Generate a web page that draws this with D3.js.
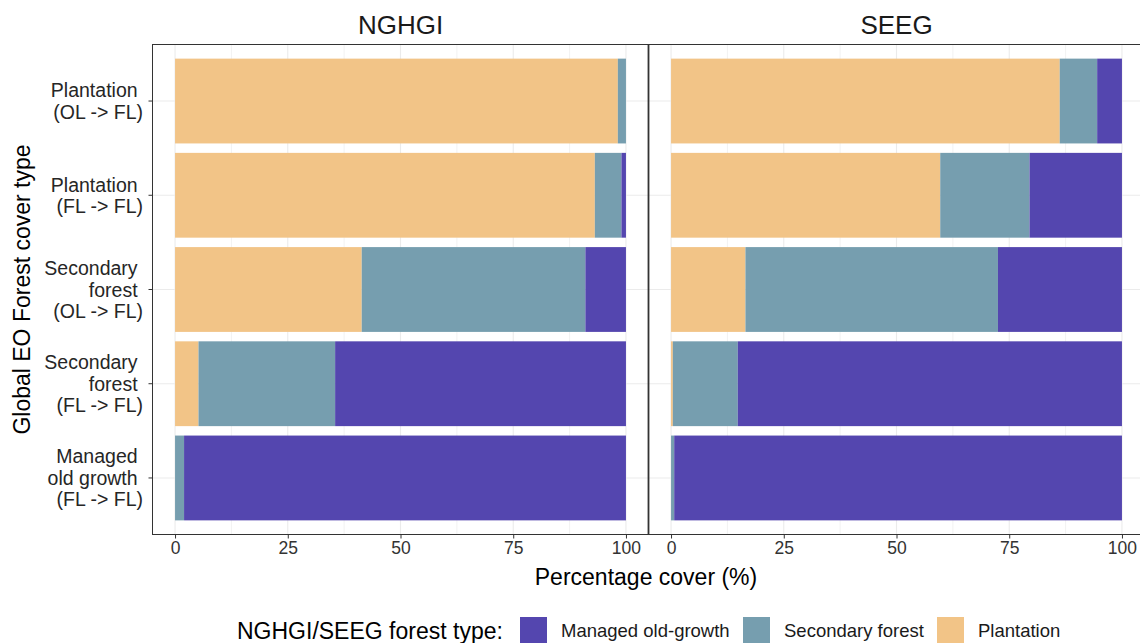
<!DOCTYPE html>
<html>
<head>
<meta charset="utf-8">
<script src="https://cdn.jsdelivr.net/npm/d3@7"></script>
<style>
  body { margin: 0; background: #fff; }
  svg { display: block; font-family: "Liberation Sans", Arial, sans-serif; }
</style>
</head>
<body>
<svg id="chart" width="1140" height="643"></svg>
<script>
// categories, top to bottom
var categories = ["PL_OL", "PL_FL", "SF_OL", "SF_FL", "MOG_FL"];
var categoryLabels = [
  ["Plantation ", "(OL -> FL)"],
  ["Plantation ", "(FL -> FL)"],
  ["Secondary ", "forest ", "(OL -> FL)"],
  ["Secondary ", "forest ", "(FL -> FL)"],
  ["Managed ", "old growth ", "(FL -> FL)"]
];
var panels = ["NGHGI", "SEEG"];
var forestTypes = ["Plantation", "Secondary forest", "Managed old-growth"];
var legendOrder = ["Managed old-growth", "Secondary forest", "Plantation"];
var colours = ["#F2C487", "#769EAF", "#5446AF"];

// percentage cover (%)
var nghgiPlantation = [98.2, 93.1, 41.4, 5.2, 0];
var nghgiSecondary  = [1.8, 5.9, 49.6, 30.3, 2.0];
var nghgiManaged    = [0, 1.0, 9.0, 64.5, 98.0];
var seegPlantation  = [86.2, 59.7, 16.5, 0.4, 0];
var seegSecondary   = [8.3, 19.8, 56.0, 14.4, 0.7];
var seegManaged     = [5.5, 20.5, 27.5, 85.2, 99.3];

var xTicks = [0, 25, 50, 75, 100];
var xMinor = [12.5, 37.5, 62.5, 87.5];

function rows(pl, sf, mg) {
  return categories.map(function(c, i) {
    return { cat: c, "Plantation": pl[i], "Secondary forest": sf[i], "Managed old-growth": mg[i] };
  });
}
var panelData = [
  rows(nghgiPlantation, nghgiSecondary, nghgiManaged),
  rows(seegPlantation, seegSecondary, seegManaged)
];

var svg = d3.select("#chart");
var plotTop = 44.5, plotBottom = 534.5;
var panelX = [[152.5, 648.5], [648.5, 1144.5]];

var colour = d3.scaleOrdinal().domain(forestTypes).range(colours);

var y = d3.scaleBand()
  .domain(categories)
  .range([plotTop, plotBottom])
  .paddingInner(0.1)
  .paddingOuter(0.15);

var stack = d3.stack().keys(forestTypes);

panels.forEach(function(name, p) {
  var x = d3.scaleLinear().domain([-5, 105]).range(panelX[p]);
  var g = svg.append("g");

  // grid
  g.selectAll(".minor").data(xMinor).enter().append("line")
    .attr("x1", function(d) { return x(d); }).attr("x2", function(d) { return x(d); })
    .attr("y1", plotTop).attr("y2", plotBottom)
    .attr("stroke", "#F2F2F2").attr("stroke-width", 1);
  g.selectAll(".major").data(xTicks).enter().append("line")
    .attr("x1", function(d) { return x(d); }).attr("x2", function(d) { return x(d); })
    .attr("y1", plotTop).attr("y2", plotBottom)
    .attr("stroke", "#EBEBEB").attr("stroke-width", 1.1);
  g.selectAll(".hgrid").data(categories).enter().append("line")
    .attr("x1", panelX[p][0]).attr("x2", panelX[p][1])
    .attr("y1", function(d) { return y(d) + y.bandwidth() / 2; })
    .attr("y2", function(d) { return y(d) + y.bandwidth() / 2; })
    .attr("stroke", "#EBEBEB").attr("stroke-width", 1.1);

  // bars
  var series = stack(panelData[p]);
  g.selectAll(".series").data(series).enter().append("g")
    .attr("fill", function(d) { return colour(d.key); })
    .selectAll("rect").data(function(d) { return d; }).enter().append("rect")
    .attr("x", function(d) { return x(d[0]); })
    .attr("width", function(d) { return Math.max(0, x(d[1]) - x(d[0])); })
    .attr("y", function(d) { return y(d.data.cat); })
    .attr("height", y.bandwidth());

  // panel border
  g.append("rect")
    .attr("x", panelX[p][0]).attr("y", plotTop)
    .attr("width", panelX[p][1] - panelX[p][0]).attr("height", plotBottom - plotTop)
    .attr("fill", "none").attr("stroke", "#333").attr("stroke-width", 1);

  // x axis
  var xAxis = d3.axisBottom(x).tickValues(xTicks).tickSize(4).tickPadding(3);
  var ax = g.append("g").attr("transform", "translate(0," + plotBottom + ")").call(xAxis);
  ax.select(".domain").remove();
  ax.selectAll("line").attr("stroke", "#333");
  ax.selectAll("text").attr("fill", "#333").style("font-size", "17.5px")
    .style("font-family", "'Liberation Sans', Arial, sans-serif");

  // strip
  svg.append("text")
    .attr("x", (panelX[p][0] + panelX[p][1]) / 2)
    .attr("y", 34)
    .attr("text-anchor", "middle")
    .style("font-size", "26px")
    .attr("fill", "#1A1A1A")
    .text(name);
});

// shared border between the two panels
svg.append("line")
  .attr("x1", panelX[1][0]).attr("x2", panelX[1][0])
  .attr("y1", plotTop).attr("y2", plotBottom)
  .attr("stroke", "#333").attr("stroke-width", 1.8);

// y axis ticks and labels
var yAxisG = svg.append("g");
yAxisG.selectAll("line").data(categories).enter().append("line")
  .attr("x1", panelX[0][0] - 4).attr("x2", panelX[0][0])
  .attr("y1", function(d) { return y(d) + y.bandwidth() / 2; })
  .attr("y2", function(d) { return y(d) + y.bandwidth() / 2; })
  .attr("stroke", "#333");

var lineH = 21.5;
categories.forEach(function(c, i) {
  var lines = categoryLabels[i];
  var cy = y(c) + y.bandwidth() / 2;
  var t = yAxisG.append("text")
    .attr("text-anchor", "end")
    .attr("fill", "#262626")
    .style("font-size", "19.5px")
    .style("white-space", "pre");
  lines.forEach(function(l, j) {
    t.append("tspan")
      .attr("x", 143)
      .attr("y", cy + (j - (lines.length - 1) / 2) * lineH + 7)
      .text(l);
  });
});

// axis titles
svg.append("text")
  .attr("x", (panelX[0][0] + panelX[1][1] - 5) / 2)
  .attr("y", 585)
  .attr("text-anchor", "middle")
  .style("font-size", "23px")
  .text("Percentage cover (%)");

svg.append("text")
  .attr("transform", "translate(30," + ((plotTop + plotBottom) / 2) + ") rotate(-90)")
  .attr("text-anchor", "middle")
  .style("font-size", "23px")
  .text("Global EO Forest cover type");

// legend
var legend = svg.append("g");
legend.append("text")
  .attr("x", 237).attr("y", 639)
  .style("font-size", "23px")
  .text("NGHGI/SEEG forest type:");
var keyX = [520, 743, 937];
legendOrder.forEach(function(k, i) {
  legend.append("rect")
    .attr("x", keyX[i]).attr("y", 617)
    .attr("width", 27).attr("height", 27)
    .attr("fill", colour(k));
  legend.append("text")
    .attr("x", keyX[i] + 41).attr("y", 637)
    .style("font-size", "18.5px")
    .attr("fill", "#1A1A1A")
    .text(k);
});
</script>
</body>
</html>
